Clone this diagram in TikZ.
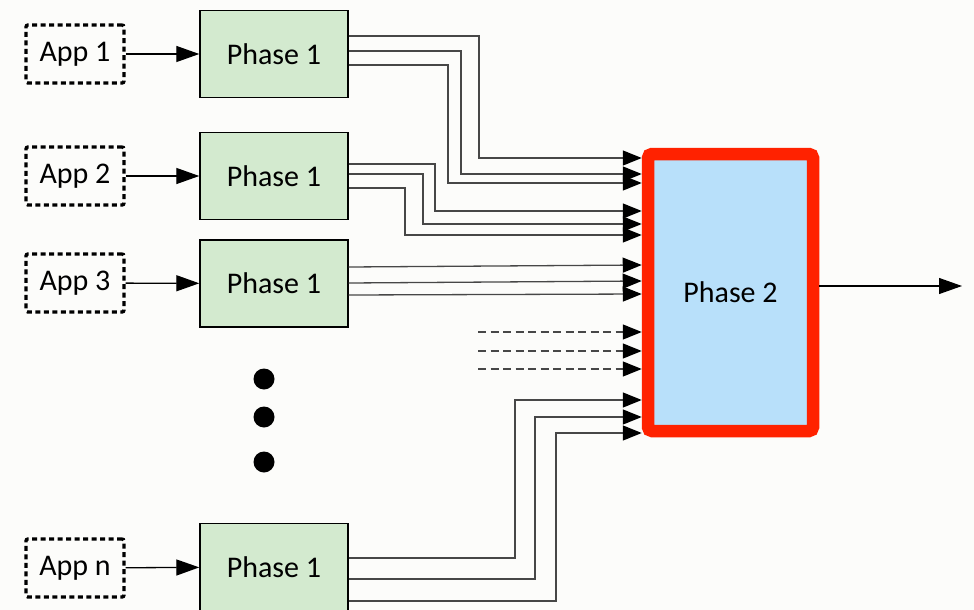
\documentclass[tikz,border=0pt]{standalone}
\usepackage{fontspec}
\setmainfont{Carlito}
\usetikzlibrary{arrows.meta, shadows}

\definecolor{greenbox}{HTML}{D3EACF}
\definecolor{bluebox}{HTML}{B8E0FA}
\definecolor{hotred}{HTML}{FF2200}
\definecolor{paper}{HTML}{FCFCFA}

\begin{document}
\begin{tikzpicture}[x=1pt, y=-1pt,
  every node/.style={font=\fontsize{30}{36}\selectfont},
  app/.style={draw, line width=3.4pt, dash pattern=on 5pt off 3.5pt, rounded corners=2pt,
              minimum width=98pt, minimum height=58pt},
  phaseone/.style={draw, line width=1.4pt, fill=greenbox, minimum width=148pt, minimum height=87pt},
  link/.style={-{Triangle[length=23pt, width=16pt]}, line width=1.3pt},
  feed/.style={-{Triangle[length=19pt, width=15pt, color=black]}, line width=1.3pt, draw=black!72}]
  \fill[paper] (0,0) rectangle (974,610);
  \useasboundingbox (0,0) rectangle (974,610);

  \node[app] (a1) at (75,54) {App 1};
  \node[app] (a2) at (75,176) {App 2};
  \node[app] (a3) at (75,283) {App 3};
  \node[app] (an) at (75,568) {App n};

  \node[phaseone] (p1) at (274,54) {Phase 1};
  \node[phaseone] (p2) at (274,176) {Phase 1};
  \node[phaseone] (p3) at (274,283.5) {Phase 1};
  \node[phaseone] (pn) at (274,567) {Phase 1};

  \node[draw=hotred, line width=12.5pt, fill=bluebox, rounded corners=4pt,
        minimum width=165pt, minimum height=277pt,
        drop shadow={opacity=0.25, shadow xshift=2pt, shadow yshift=-3pt}] (ph2) at (730.5,292.5) {Phase 2};

  \foreach \i in {1,2,3,n}
    \draw[link] (a\i) -- (p\i);

  % first box goes over the top
  \draw[feed] (p1.east |- 0,36) -| (479,158) -- (ph2.west |- 0,158);
  \draw[feed] (p1.east |- 0,51) -| (461,174) -- (ph2.west |- 0,174);
  \draw[feed] (p1.east |- 0,65) -| (448,183) -- (ph2.west |- 0,183);
  % second box
  \draw[feed] (p2.east |- 0,164) -| (435,211) -- (ph2.west |- 0,211);
  \draw[feed] (p2.east |- 0,174) -| (423,224) -- (ph2.west |- 0,224);
  \draw[feed] (p2.east |- 0,188) -| (405,235) -- (ph2.west |- 0,235);
  % third box, almost straight
  \draw[feed] (p3.east |- 0,267) -- (ph2.west |- 0,265);
  \draw[feed] (p3.east |- 0,283) -- (ph2.west |- 0,281);
  \draw[feed] (p3.east |- 0,295) -- (ph2.west |- 0,294);
  % the ones in between
  \coordinate (m1) at (478,332);
  \coordinate (m2) at (478,351);
  \coordinate (m3) at (478,369);
  \draw[feed, dash pattern=on 8pt off 4.5pt] (m1) -- (ph2.west |- m1);
  \draw[feed, dash pattern=on 8pt off 4.5pt] (m2) -- (ph2.west |- m2);
  \draw[feed, dash pattern=on 8pt off 4.5pt] (m3) -- (ph2.west |- m3);
  % last box comes up from below
  \draw[feed] (pn.east |- 0,558) -| (515,400) -- (ph2.west |- 0,400);
  \draw[feed] (pn.east |- 0,579) -| (535,417) -- (ph2.west |- 0,417);
  \draw[feed] (pn.east |- 0,601) -| (556,433) -- (ph2.west |- 0,433);

  \fill (264,379) circle (10.5);
  \fill (264,417) circle (10.5);
  \fill (264,462) circle (10.5);

  \coordinate (out) at (962,286);
  \draw[link, line width=1.1pt] (ph2.east |- out) -- (out);
\end{tikzpicture}
\end{document}
